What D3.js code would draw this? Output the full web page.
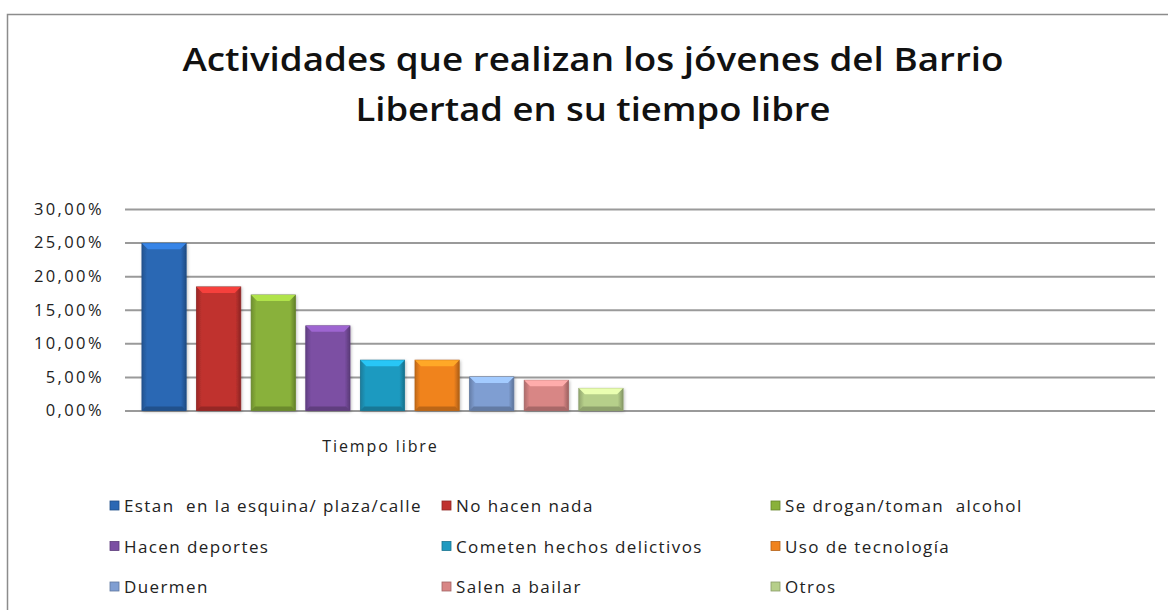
<!DOCTYPE html>
<html>
<head>
<meta charset="utf-8">
<script src="https://cdn.jsdelivr.net/npm/d3@7"></script>
<style>
  body { margin: 0; background: #fff; }
  svg { display: block; font-family: "Open Sans", Lato, sans-serif; }
</style>
</head>
<body>
<div id="chart"></div>
<script>
const titleLines = ["Actividades que realizan los jóvenes del Barrio", "Libertad en su tiempo libre"];
const categories = ["Tiempo libre", ""];
const series = [
  "Estan  en la esquina/ plaza/calle", "No hacen nada", "Se drogan/toman  alcohol",
  "Hacen deportes", "Cometen hechos delictivos", "Uso de tecnología",
  "Duermen", "Salen a bailar", "Otros"
];
const values = [0.249, 0.184, 0.172, 0.126, 0.075, 0.075, 0.050, 0.045, 0.033];
const colors = ["#2b68b4", "#c0322f", "#89b13a", "#7b4fa3", "#1f9ac0", "#f0831e", "#7f9ed2", "#d88685", "#b6cf8a"];
const yTicks = [0, 0.05, 0.10, 0.15, 0.20, 0.25, 0.30];

const width = 1168, height = 610;
const plot = { left: 125, right: 1155, top: 209, bottom: 410.5 };

const svg = d3.select("#chart").append("svg")
  .attr("width", width)
  .attr("height", height);

// chart frame (runs off the right and bottom of the picture)
svg.append("rect")
  .attr("x", 7.5).attr("y", 14.5)
  .attr("width", 1200).attr("height", 700)
  .attr("fill", "#fff")
  .attr("stroke", "#8c8c8c")
  .attr("stroke-width", 1.5);

const titleWidths = [821, 475];
svg.append("g")
  .selectAll("text")
  .data(titleLines).enter()
  .append("text")
    .attr("x", 593)
    .attr("y", (d, i) => 71 + i * 49.5)
    .attr("text-anchor", "middle")
    .attr("font-size", 32)
    .attr("font-weight", 600)
    .attr("textLength", (d, i) => titleWidths[i])
    .attr("lengthAdjust", "spacingAndGlyphs")
    .attr("fill", "#111")
    .text(d => d);

const esLocale = d3.formatLocale({ decimal: ",", thousands: ".", grouping: [3], currency: ["", "€"], percent: "%" });
const fmt = esLocale.format(".2%");

const y = d3.scaleLinear()
  .domain([0, 0.30])
  .range([plot.bottom, plot.top]);

const x0 = d3.scaleBand()
  .domain(categories)
  .range([plot.left, plot.right])
  .padding(0);

const x1 = d3.scaleBand()
  .domain(series)
  .range([0, x0.bandwidth()])
  .paddingInner(0.19)
  .paddingOuter(0.31);

// gridlines + labels
const yAxis = svg.append("g")
  .attr("transform", `translate(${plot.left},0)`)
  .call(d3.axisLeft(y)
    .tickValues(yTicks)
    .tickSize(-(plot.right - plot.left))
    .tickPadding(21)
    .tickFormat(fmt));
yAxis.select(".domain").remove();
yAxis.selectAll(".tick line")
  .attr("stroke", "#9a9a9a")
  .attr("stroke-width", 2);
yAxis.selectAll(".tick text")
  .attr("font-family", "'Open Sans', sans-serif")
  .attr("font-size", 16.5)
  .attr("letter-spacing", 2.4)
  .attr("fill", "#222");

// bevel gradients per bar
const defs = svg.append("defs");
series.forEach((s, i) => {
  const g = defs.append("linearGradient")
    .attr("id", "bar-grad-" + i)
    .attr("x1", 0).attr("x2", 1).attr("y1", 0).attr("y2", 0);
  const base = d3.color(colors[i]);
  [[0, base.darker(0.6)], [0.12, base], [0.88, base], [1, base.darker(0.9)]].forEach(([o, c]) => {
    g.append("stop").attr("offset", o).attr("stop-color", c);
  });
});

const shadow = defs.append("filter").attr("id", "bar-shadow")
  .attr("x", "-20%").attr("y", "-20%").attr("width", "140%").attr("height", "140%");
shadow.append("feDropShadow")
  .attr("dx", 1).attr("dy", 1).attr("stdDeviation", 1.5)
  .attr("flood-color", "#000").attr("flood-opacity", 0.25);

const bars = svg.append("g")
  .attr("transform", `translate(${x0(categories[0])},0)`)
  .selectAll("g")
  .data(values).enter()
  .append("g")
    .attr("transform", (d, i) => `translate(${x1(series[i])},0)`);

const bw = x1.bandwidth();

bars.append("rect")
  .attr("y", d => y(d))
  .attr("width", bw)
  .attr("height", d => y(0) - y(d))
  .attr("fill", (d, i) => `url(#bar-grad-${i})`)
  .attr("stroke", (d, i) => d3.color(colors[i]).darker(0.8))
  .attr("stroke-width", 0.8)
  .attr("filter", "url(#bar-shadow)");

// top bevel
bars.append("path")
  .attr("d", d => {
    const t = y(d), b = 6;
    return `M0,${t}L${bw},${t}L${bw - b},${t + b}L${b},${t + b}Z`;
  })
  .attr("fill", (d, i) => d3.color(colors[i]).brighter(0.7));

// bottom bevel
bars.append("path")
  .attr("d", d => {
    const bt = y(0), b = 4;
    return `M0,${bt}L${bw},${bt}L${bw - b},${bt - b}L${b},${bt - b}Z`;
  })
  .attr("fill", (d, i) => d3.color(colors[i]).darker(0.7));

// category label
svg.append("g")
  .selectAll("text")
  .data(categories.filter(c => c)).enter()
  .append("text")
    .attr("x", d => x0(d) + x0.bandwidth() / 2 - 2)
    .attr("y", 452)
    .attr("text-anchor", "middle")
    .attr("font-size", 16)
    .attr("letter-spacing", 1.9)
    .attr("fill", "#222")
    .text(d => d);

// legend, three columns
const legendCols = [124, 456, 785];
const legendRows = [512, 552.5, 593];

const legend = svg.append("g")
  .selectAll("g")
  .data(series).enter()
  .append("g")
    .attr("transform", (d, i) => `translate(${legendCols[i % 3]},${legendRows[Math.floor(i / 3)]})`);

legend.append("rect")
  .attr("x", -14).attr("y", -11)
  .attr("width", 9).attr("height", 9)
  .attr("fill", (d, i) => colors[i])
  .attr("stroke", (d, i) => d3.color(colors[i]).darker(0.8))
  .attr("stroke-width", 0.8);

legend.append("text")
  .attr("font-size", 17)
  .attr("letter-spacing", 1.4)
  .attr("fill", "#222")
  .style("white-space", "pre")
  .text(d => d);
</script>
</body>
</html>
